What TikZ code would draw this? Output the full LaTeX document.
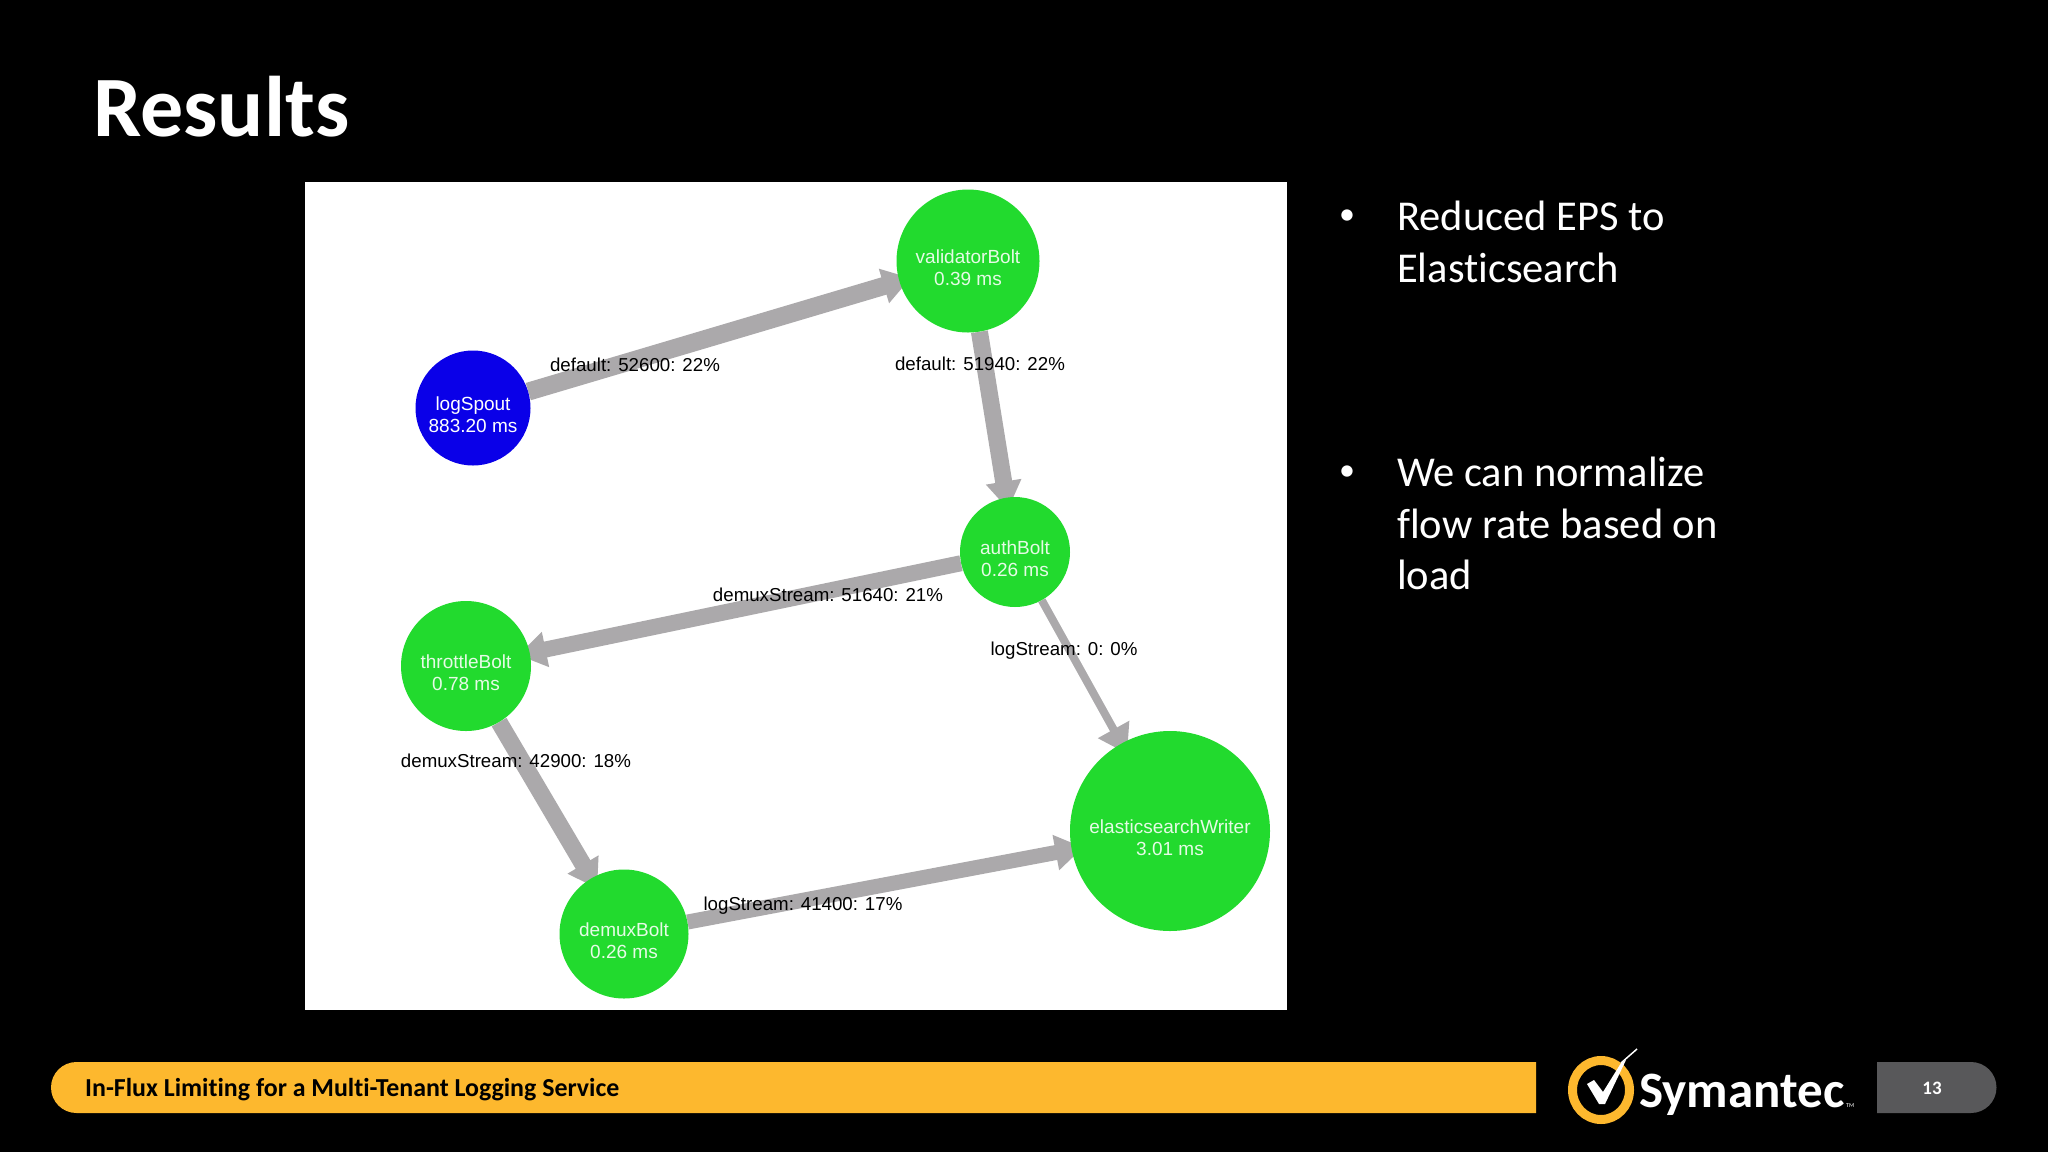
\documentclass[tikz,border=0pt]{standalone}
\usepackage{fontspec}
\setmainfont{Carlito}[Ligatures=CommonOff]
\newfontfamily\graphfont{Liberation Sans}
\usetikzlibrary{arrows.meta,backgrounds}
\definecolor{barYellow}{HTML}{FDB82E}
\definecolor{pageGrey}{HTML}{58585A}
\definecolor{flowGrey}{HTML}{ABA9AB}
\definecolor{boltGreen}{HTML}{22DA2E}
\definecolor{spoutBlue}{HTML}{0A00E8}
\definecolor{boltText}{HTML}{E6FBE6}
\newcommand{\boltlabel}[2]{\rule{0pt}{27pt}#1\\#2}
\tikzset{
  x=1pt,y=-1pt,
  bolt/.style={circle,fill=boltGreen,inner sep=0pt,text=boltText,align=center,font=\graphfont\fontsize{19}{22}\selectfont},
  flow/.style={draw=flowGrey,line width=#1,shorten >=-12pt,-{Triangle[length=28pt,width=34pt]}},
  flow/.default=16pt,
  edgelabel/.style={text=black,inner sep=0pt,font=\graphfont\fontsize{18.7}{23}\selectfont},
  bullettext/.style={text=white,anchor=north west,inner sep=0pt,align=left,font=\fontsize{42.5}{51.5}\selectfont},
  bulletmark/.style={text=white,inner sep=0pt,font=\fontsize{32}{32}\selectfont},
}
\begin{document}
\begin{tikzpicture}
\useasboundingbox (0,0) rectangle (2048,1152);
\node[bolt,fill=spoutBlue,text=white,minimum size=115pt] (logSpout) at (473,408) {\boltlabel{logSpout}{883.20 ms}};
\node[bolt,minimum size=143pt] (validatorBolt) at (968,261) {\boltlabel{validatorBolt}{0.39 ms}};
\node[bolt,minimum size=110pt] (authBolt) at (1015,552) {\boltlabel{authBolt}{0.26 ms}};
\node[bolt,minimum size=130pt] (throttleBolt) at (466,666) {\boltlabel{throttleBolt}{0.78 ms}};
\node[bolt,minimum size=129pt] (demuxBolt) at (624,934) {\boltlabel{demuxBolt}{0.26 ms}};
\node[bolt,minimum size=200pt] (elasticWriter) at (1170,831) {\boltlabel{elasticsearchWriter}{3.01 ms}};

\begin{scope}[on background layer]
\fill[black] (0,0) rectangle (2048,1152);
\fill[white] (304.5,182) rectangle (1287,1010);
\draw[flow=18pt] (logSpout) -- (validatorBolt);
\draw[flow=17pt] (validatorBolt) -- (authBolt);
\draw[flow=16pt] (authBolt) -- (throttleBolt);
\draw[flow=17pt] (throttleBolt) -- (demuxBolt);
\draw[flow=15pt] (demuxBolt) -- (elasticWriter);
\draw[flow=8pt] (authBolt) -- (elasticWriter);
\end{scope}

\node[text=white,anchor=base west,inner sep=0pt,font=\bfseries\fontsize{86}{100}\selectfont] (title) at (93,136) {Results};

\node[edgelabel] (l1) at (635,365) {default: 52600: 22\%};
\node[edgelabel] (l2) at (980,364) {default: 51940: 22\%};
\node[edgelabel] (l3) at (828,595) {demuxStream: 51640: 21\%};
\node[edgelabel] (l4) at (1064,651) {logStream: 0: 0\%};
\node[edgelabel] (l5) at (516,761) {demuxStream: 42900: 18\%};
\node[edgelabel] (l6) at (803,906) {logStream: 41400: 17\%};

\node[bulletmark] (b1) at (1347,217) {•};
\node[bullettext] (t1) at (1397,201) {Reduced EPS to\\Elasticsearch};
\node[bulletmark] (b2) at (1347,473) {•};
\node[bullettext] (t2) at (1397,457) {We can normalize\\flow rate based on\\load};

\fill[barYellow] (1536,1062) -- (76.5,1062) arc[start angle=90,end angle=270,radius=25.5pt] -- (1536,1113) -- cycle;
\node[text=black,anchor=base west,inner sep=0pt,font=\bfseries\fontsize{25.9}{30}\selectfont] (footer) at (85,1096) {In-Flux Limiting for a Multi-Tenant Logging Service};

\fill[pageGrey] (1877,1062) -- (1971,1062) arc[start angle=90,end angle=-90,radius=25.5pt] -- (1877,1113) -- cycle;
\node[text=white,inner sep=0pt,font=\bfseries\fontsize{19}{22}\selectfont] (page) at (1932,1088) {13};

\draw[barYellow,line width=9pt] (1601,1090) ellipse[x radius=28.5pt,y radius=29.5pt];
\fill[white] (1587,1084) -- (1594,1080) -- (1603,1092) -- (1621,1063) -- (1626,1060) -- (1605,1104) -- (1599,1104) -- cycle;
\draw[white,line width=1.5pt] (1621,1063) -- (1637,1049);
\node[text=white,anchor=base west,inner sep=0pt,font=\bfseries\fontsize{51}{60}\selectfont] (logo) at (1639,1107) {Symantec};
\node[text=white,anchor=base west,inner sep=0pt,font=\fontsize{6}{7}\selectfont] (tm) at (1846,1107) {TM};
\end{tikzpicture}
\end{document}
